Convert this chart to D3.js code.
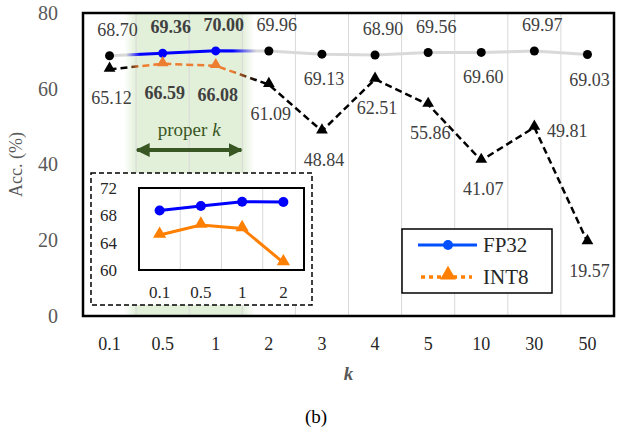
<!DOCTYPE html>
<html>
<head>
<meta charset="utf-8">
<script src="https://cdn.jsdelivr.net/npm/d3@7"></script>
<style>
  body { margin: 0; background: #fff; }
  svg text { font-family: "Liberation Serif", "Times New Roman", Times, "DejaVu Serif", serif !important; }
</style>
</head>
<body>
<div id="main"></div>
<script>
// data
const kValues = ["0.1", "0.5", "1", "2", "3", "4", "5", "10", "30", "50"];
const fp32 = [68.70, 69.36, 70.00, 69.96, 69.13, 68.90, 69.56, 69.60, 69.97, 69.03];
const int8 = [65.12, 66.59, 66.08, 61.09, 48.84, 62.51, 55.86, 41.07, 49.81, 19.57];
const properK = ["0.5", "1"];
const yTicks = [0, 20, 40, 60, 80];

// inset (zoom of first four k)
const insetK = ["0.1", "0.5", "1", "2"];
const insetFp32 = [68.70, 69.36, 70.00, 69.96];
const insetInt8 = [65.12, 66.59, 66.08, 61.09];
const insetTicks = [60, 64, 68, 72];

// label placement
const fpSide = ["above", "above", "above", "above", "below", "above", "above", "below", "above", "below"];
const intSide = ["below", "below", "below", "below", "below", "below", "below", "below", "right", "below"];

const w = 632, h = 432;
const margin = { top: 13, right: 18, bottom: 116, left: 83 };
const serif = "Liberation Serif";

const svg = d3.select("#main").append("svg")
  .attr("width", w)
  .attr("height", h)
  .attr("font-family", serif);

svg.append("rect").attr("width", w).attr("height", h).attr("fill", "#fff");

const xScale = d3.scaleBand()
  .domain(kValues)
  .range([margin.left, w - margin.right])
  .padding(0);

const yScale = d3.scaleLinear()
  .domain([0, 80])
  .range([h - margin.bottom, margin.top]);

const bw = xScale.bandwidth();
const cx = d => xScale(d) + bw / 2;

const defs = svg.append("defs");

// green "proper k" band
const hlStart = xScale(properK[0]);
const hlEnd = xScale(properK[properK.length - 1]) + bw;
const fade = 12;
const green = defs.append("linearGradient").attr("id", "greenBand");
[[0, 0], [fade / (hlEnd - hlStart + 2 * fade), 1], [1 - fade / (hlEnd - hlStart + 2 * fade), 1], [1, 0]]
  .forEach(s => green.append("stop").attr("offset", s[0]).attr("stop-color", "#e2efd9").attr("stop-opacity", s[1]));

svg.append("rect")
  .attr("x", hlStart - fade)
  .attr("y", yScale(80))
  .attr("width", hlEnd - hlStart + 2 * fade)
  .attr("height", yScale(0) - yScale(80))
  .attr("fill", "url(#greenBand)");

// vertical grid lines between categories
svg.append("g")
  .selectAll("line")
  .data(kValues.slice(1))
  .enter()
  .append("line")
  .attr("x1", d => xScale(d)).attr("x2", d => xScale(d))
  .attr("y1", yScale(80)).attr("y2", yScale(0))
  .attr("stroke", "#d9d9d9")
  .attr("stroke-width", 1);

// colour gradients along the lines
function lineGrad(id, base, hi) {
  const g = defs.append("linearGradient")
    .attr("id", id)
    .attr("gradientUnits", "userSpaceOnUse")
    .attr("x1", 0).attr("x2", w).attr("y1", 0).attr("y2", 0);
  [[hlStart - 10, base], [hlStart + 4, hi], [hlEnd - 10, hi], [hlEnd + 14, base]]
    .forEach(s => g.append("stop").attr("offset", s[0] / w).attr("stop-color", s[1]));
}
lineGrad("fpGrad", "#d9d9d9", "#0000ff");
lineGrad("intGrad", "#000000", "#ed7d31");

const line = d3.line().x((d, i) => cx(kValues[i])).y(d => yScale(d));

svg.append("path")
  .datum(fp32)
  .attr("d", line)
  .attr("fill", "none")
  .attr("stroke", "url(#fpGrad)")
  .attr("stroke-width", 3);

svg.append("path")
  .datum(int8)
  .attr("d", line)
  .attr("fill", "none")
  .attr("stroke", "url(#intGrad)")
  .attr("stroke-width", 2.5)
  .attr("stroke-dasharray", "7,4");

const isHi = i => properK.includes(kValues[i]);

svg.append("g")
  .selectAll("circle")
  .data(fp32)
  .enter()
  .append("circle")
  .attr("cx", (d, i) => cx(kValues[i]))
  .attr("cy", d => yScale(d))
  .attr("r", 4.5)
  .attr("fill", (d, i) => isHi(i) ? "#0000ff" : "#000");

const tri = d3.symbol().type(d3.symbolTriangle).size(60);
svg.append("g")
  .selectAll("path")
  .data(int8)
  .enter()
  .append("path")
  .attr("d", tri)
  .attr("transform", (d, i) => "translate(" + cx(kValues[i]) + "," + (yScale(d) - 1) + ")")
  .attr("fill", (d, i) => isHi(i) ? "#ed7d31" : "#000");

// data labels
function labelPos(side, x, y, above, below) {
  if (side === "above") return [x + 8, y - above];
  if (side === "right") return [x + 33, y + 10];
  return [x + 2, y + below];
}

svg.append("g")
  .selectAll("text")
  .data(fp32)
  .enter()
  .append("text")
  .attr("x", (d, i) => labelPos(fpSide[i], cx(kValues[i]), yScale(d), 20, 31)[0])
  .attr("y", (d, i) => labelPos(fpSide[i], cx(kValues[i]), yScale(d), 20, 31)[1])
  .attr("text-anchor", "middle")
  .attr("font-size", 18)
  .attr("font-weight", (d, i) => isHi(i) ? "bold" : "normal")
  .attr("fill", "#404040")
  .text(d => d.toFixed(2));

svg.append("g")
  .selectAll("text")
  .data(int8)
  .enter()
  .append("text")
  .attr("x", (d, i) => labelPos(intSide[i], cx(kValues[i]), yScale(d), 20, 35)[0])
  .attr("y", (d, i) => labelPos(intSide[i], cx(kValues[i]), yScale(d), 20, 35)[1])
  .attr("text-anchor", "middle")
  .attr("font-size", 18)
  .attr("font-weight", (d, i) => isHi(i) ? "bold" : "normal")
  .attr("fill", "#404040")
  .text(d => d.toFixed(2));

// proper k annotation
const midHl = (hlStart + hlEnd) / 2;
svg.append("text")
  .attr("x", midHl)
  .attr("y", 136)
  .attr("text-anchor", "middle")
  .attr("font-size", 19)
  .attr("fill", "#385723")
  .html('proper <tspan font-style="italic">k</tspan>');

defs.append("marker")
  .attr("id", "arrowHead")
  .attr("viewBox", "0 0 10 10")
  .attr("refX", 9).attr("refY", 5)
  .attr("markerWidth", 3.5).attr("markerHeight", 3.5)
  .attr("markerUnits", "strokeWidth")
  .attr("orient", "auto-start-reverse")
  .append("path")
  .attr("d", "M0,0 L10,5 L0,10 Z")
  .attr("fill", "#385723");

svg.append("line")
  .attr("x1", hlStart + 1).attr("x2", hlEnd - 1)
  .attr("y1", 150).attr("y2", 150)
  .attr("stroke", "#385723")
  .attr("stroke-width", 4)
  .attr("marker-start", "url(#arrowHead)")
  .attr("marker-end", "url(#arrowHead)");

// axes
const yAxis = d3.axisLeft(yScale).tickValues(yTicks).tickSize(0).tickPadding(25);
svg.append("g")
  .attr("transform", "translate(" + margin.left + ",0)")
  .call(yAxis)
  .attr("font-family", serif)
  .call(g => g.select(".domain").remove())
  .selectAll("text")
  .attr("font-size", 20)
  .attr("fill", "#595959");

const xAxis = d3.axisBottom(xScale).tickSize(0).tickPadding(21);
svg.append("g")
  .attr("transform", "translate(0," + yScale(0) + ")")
  .call(xAxis)
  .attr("font-family", serif)
  .call(g => g.select(".domain").remove())
  .selectAll("text")
  .attr("font-size", 18)
  .attr("fill", "#262626");

svg.append("text")
  .attr("transform", "translate(22," + ((yScale(0) + yScale(80)) / 2) + ") rotate(-90)")
  .attr("text-anchor", "middle")
  .attr("font-size", 18)
  .attr("fill", "#595959")
  .text("Acc. (%)");

svg.append("text")
  .attr("x", (margin.left + w - margin.right) / 2)
  .attr("y", 380)
  .attr("text-anchor", "middle")
  .attr("font-size", 19)
  .attr("font-weight", "bold")
  .attr("font-style", "italic")
  .attr("fill", "#595959")
  .text("k");

svg.append("text")
  .attr("x", 316)
  .attr("y", 423)
  .attr("text-anchor", "middle")
  .attr("font-size", 19)
  .attr("fill", "#000")
  .text("(b)");

// plot frame
svg.append("rect")
  .attr("x", margin.left).attr("y", margin.top)
  .attr("width", w - margin.left - margin.right)
  .attr("height", h - margin.top - margin.bottom)
  .attr("fill", "none")
  .attr("stroke", "#000")
  .attr("stroke-width", 2.5);

// inset
const inset = svg.append("g");
inset.append("rect")
  .attr("x", 91).attr("y", 173).attr("width", 221).attr("height", 132)
  .attr("fill", "#fff")
  .attr("stroke", "#000")
  .attr("stroke-width", 1.5)
  .attr("stroke-dasharray", "5,3");

const ix = d3.scaleBand().domain(insetK).range([139, 304]);
const iy = d3.scaleLinear().domain([60, 72]).range([270, 188]);
const icx = d => ix(d) + ix.bandwidth() / 2;

inset.append("g")
  .selectAll("line")
  .data(insetK.slice(1))
  .enter()
  .append("line")
  .attr("x1", d => ix(d)).attr("x2", d => ix(d))
  .attr("y1", 188).attr("y2", 270)
  .attr("stroke", "#d9d9d9");

const iline = d3.line().x((d, i) => icx(insetK[i])).y(d => iy(d));
inset.append("path").datum(insetFp32).attr("d", iline)
  .attr("fill", "none").attr("stroke", "#0000ff").attr("stroke-width", 3);
inset.append("path").datum(insetInt8).attr("d", iline)
  .attr("fill", "none").attr("stroke", "#ff7f00").attr("stroke-width", 3);

inset.append("g").selectAll("circle").data(insetFp32).enter().append("circle")
  .attr("cx", (d, i) => icx(insetK[i])).attr("cy", d => iy(d)).attr("r", 5)
  .attr("fill", "#0000ff");
inset.append("g").selectAll("path").data(insetInt8).enter().append("path")
  .attr("d", d3.symbol().type(d3.symbolTriangle).size(75))
  .attr("transform", (d, i) => "translate(" + icx(insetK[i]) + "," + (iy(d) - 1) + ")")
  .attr("fill", "#ff7f00");

inset.append("g")
  .attr("transform", "translate(139,0)")
  .call(d3.axisLeft(iy).tickValues(insetTicks).tickSize(0).tickPadding(22))
  .attr("font-family", serif)
  .call(g => g.select(".domain").remove())
  .selectAll("text")
  .attr("font-size", 17)
  .attr("fill", "#262626");

inset.append("g")
  .attr("transform", "translate(0,270)")
  .call(d3.axisBottom(ix).tickSize(0).tickPadding(16))
  .attr("font-family", serif)
  .call(g => g.select(".domain").remove())
  .selectAll("text")
  .attr("font-size", 17)
  .attr("fill", "#262626");

inset.append("rect")
  .attr("x", 139).attr("y", 188).attr("width", 165).attr("height", 82)
  .attr("fill", "none").attr("stroke", "#000").attr("stroke-width", 2);

// legend
const legend = svg.append("g");
legend.append("rect")
  .attr("x", 402).attr("y", 229).attr("width", 150).attr("height", 64)
  .attr("fill", "#fff").attr("stroke", "#000").attr("stroke-width", 1.5);

legend.append("line")
  .attr("x1", 418).attr("x2", 477).attr("y1", 245).attr("y2", 245)
  .attr("stroke", "#0050ff").attr("stroke-width", 3);
legend.append("circle").attr("cx", 448).attr("cy", 245).attr("r", 5).attr("fill", "#0050ff");
legend.append("text").attr("x", 483).attr("y", 252).attr("font-size", 21).attr("fill", "#262626").text("FP32");

legend.append("line")
  .attr("x1", 421).attr("x2", 472).attr("y1", 277).attr("y2", 277)
  .attr("stroke", "#ff8000").attr("stroke-width", 3.5).attr("stroke-dasharray", "4,4");
legend.append("path")
  .attr("d", d3.symbol().type(d3.symbolTriangle).size(110))
  .attr("transform", "translate(448,275)")
  .attr("fill", "#ff8000");
legend.append("text").attr("x", 483).attr("y", 284).attr("font-size", 21).attr("fill", "#262626").text("INT8");
</script>
</body>
</html>
